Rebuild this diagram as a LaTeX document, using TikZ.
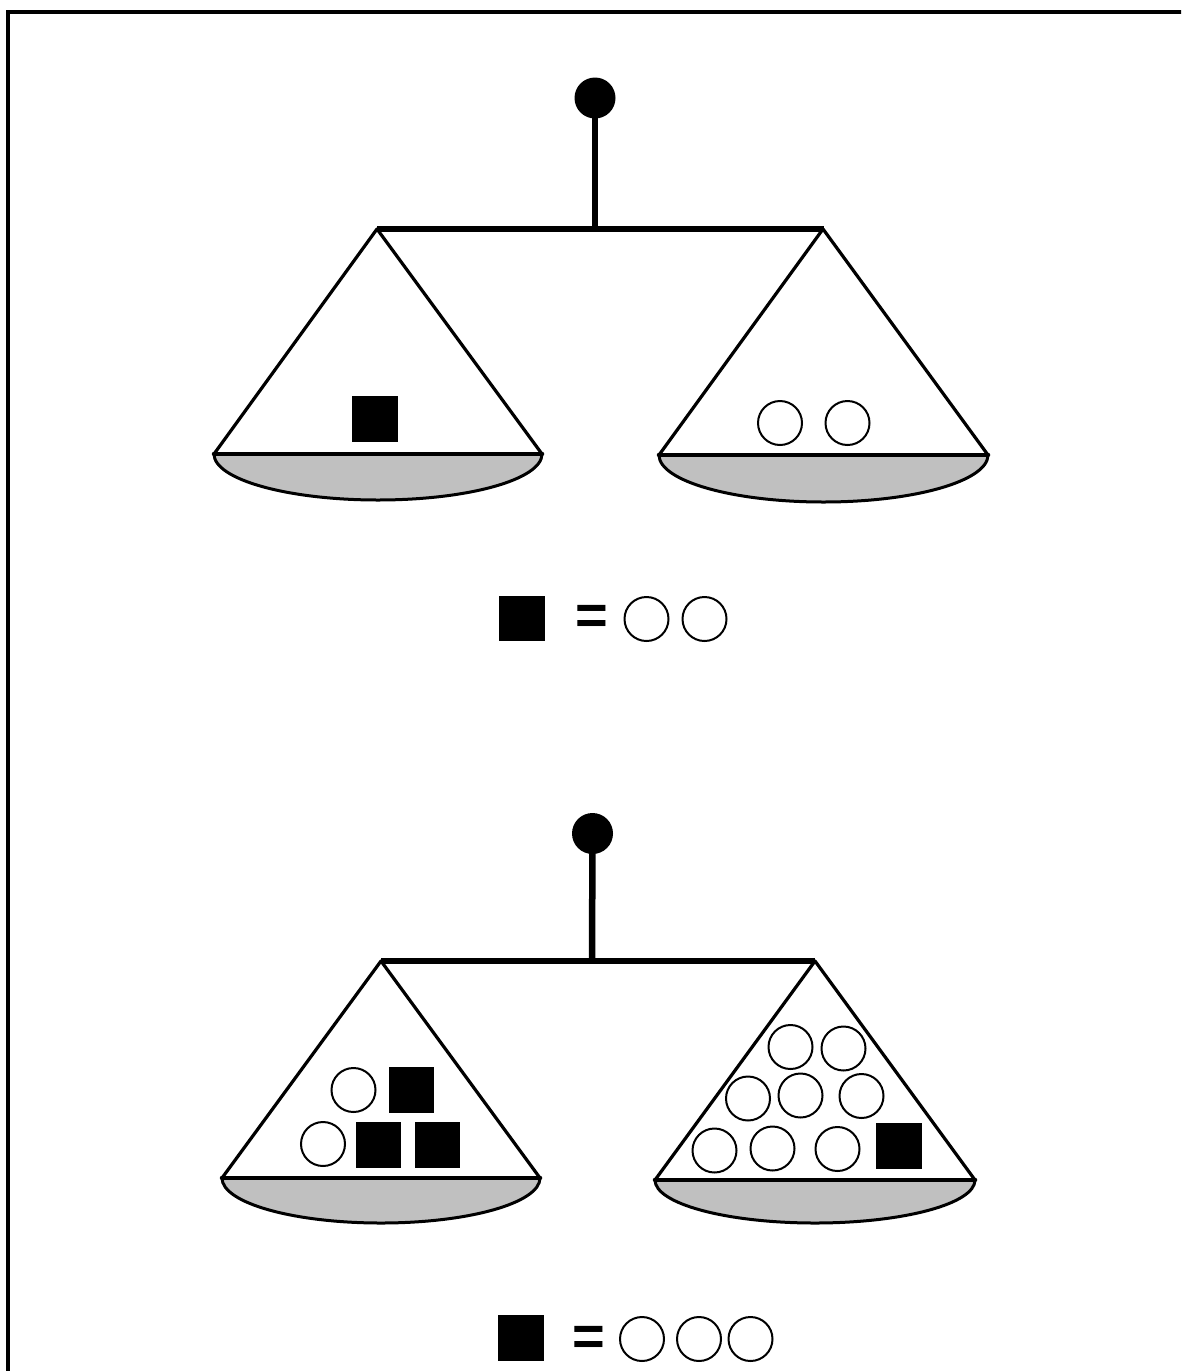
\documentclass[tikz,border=0pt]{standalone}
\usepackage{fontspec}
\setmainfont{Liberation Sans}
\definecolor{pangray}{HTML}{C0C0C0}
\begin{document}
\begin{tikzpicture}[x=1pt,y=1pt,yscale=-1,
  heavy/.style={line width=6.5pt},
  side/.style={line width=3.2pt, line join=round},
  bowl/.style={fill=pangray, draw=black, line width=3pt},
  baseline/.style={line width=4.5pt, line cap=round},
  blk/.style={rectangle, fill=black, draw=none, minimum size=45.5pt, inner sep=0pt},
  wht/.style={circle, draw=black, fill=white, line width=2pt, minimum size=44pt, inner sep=0pt},
  knob/.style={circle, fill=black, draw=none, minimum size=41pt, inner sep=0pt},
  eqsign/.style={inner sep=0pt, font=\fontsize{56}{56}\selectfont\bfseries}
]
\clip (0,0) rectangle (1181,1371);
\fill[white] (0,0) rectangle (1181,1371);
% frame
\draw[line width=4.6pt] (8,1400) -- (8,12) -- (1200,12);

% ================= top scale =================
\node[knob] (k1) at (595,98) {};
\coordinate (b1m) at (595,229);
\coordinate (b1l) at (377,229);
\coordinate (b1r) at (824,229);
\draw[heavy] (k1.center) -- (b1m);
\draw[heavy] (b1l) -- (b1r);
% left pan
\coordinate (p1a) at (377,229);
\coordinate (p1l) at (214,454);
\coordinate (p1r) at (542,454);
\draw[bowl] (p1l) arc[start angle=180, end angle=0, x radius=164, y radius=46] -- cycle;
\draw[baseline] (p1l) -- (p1r);
\draw[side] (p1l) -- (p1a) -- (p1r);
\node[blk] (s1) at (375,419) {};
% right pan
\coordinate (p2a) at (823,229);
\coordinate (p2l) at (659,455);
\coordinate (p2r) at (988,455);
\draw[bowl] (p2l) arc[start angle=180, end angle=0, x radius=164.5, y radius=47] -- cycle;
\draw[baseline] (p2l) -- (p2r);
\draw[side] (p2l) -- (p2a) -- (p2r);
\node[wht] (c1) at (780,423) {};
\node[wht] (c2) at (847.5,423) {};
% equation 1
\node[blk] (e1s) at (522,618.5) {};
\node[eqsign] (e1eq) at (591.5,620) {=};
\node[wht] (e1c1) at (646.5,619) {};
\node[wht] (e1c2) at (704.5,619) {};

% ================= bottom scale =================
\node[knob] (k2) at (592.5,833.5) {};
\coordinate (b2m) at (592,961);
\coordinate (b2l) at (381,961);
\coordinate (b2r) at (815,961);
\draw[heavy] (k2.center) -- (b2m);
\draw[heavy] (b2l) -- (b2r);
% left pan
\coordinate (p3a) at (381,961);
\coordinate (p3l) at (222,1178);
\coordinate (p3r) at (540,1178);
\draw[bowl] (p3l) arc[start angle=180, end angle=0, x radius=159, y radius=45] -- cycle;
\draw[baseline] (p3l) -- (p3r);
\draw[side] (p3l) -- (p3a) -- (p3r);
\node[wht] (l1) at (353.5,1090) {};
\node[blk] (l2) at (411.5,1090) {};
\node[wht] (l3) at (323,1144) {};
\node[blk] (l4) at (378.5,1145) {};
\node[blk] (l5) at (437.5,1145) {};
% right pan
\coordinate (p4a) at (815,961);
\coordinate (p4l) at (655,1180);
\coordinate (p4r) at (975,1180);
\draw[bowl] (p4l) arc[start angle=180, end angle=0, x radius=160, y radius=43] -- cycle;
\draw[baseline] (p4l) -- (p4r);
\draw[side] (p4l) -- (p4a) -- (p4r);
\node[wht] (r1) at (790.5,1047) {};
\node[wht] (r2) at (843.5,1048.5) {};
\node[wht] (r3) at (748,1098.5) {};
\node[wht] (r4) at (800.5,1095.5) {};
\node[wht] (r5) at (861.5,1096) {};
\node[wht] (r6) at (714.5,1150.5) {};
\node[wht] (r7) at (772.5,1148.5) {};
\node[wht] (r8) at (837.5,1149) {};
\node[blk] (r9) at (899,1146) {};
% equation 2
\node[blk] (e2s) at (521,1338) {};
\node[eqsign] (e2eq) at (588.5,1341) {=};
\node[wht] (e2c1) at (642,1339) {};
\node[wht] (e2c2) at (699,1339) {};
\node[wht] (e2c3) at (750.5,1339) {};
\end{tikzpicture}
\end{document}
